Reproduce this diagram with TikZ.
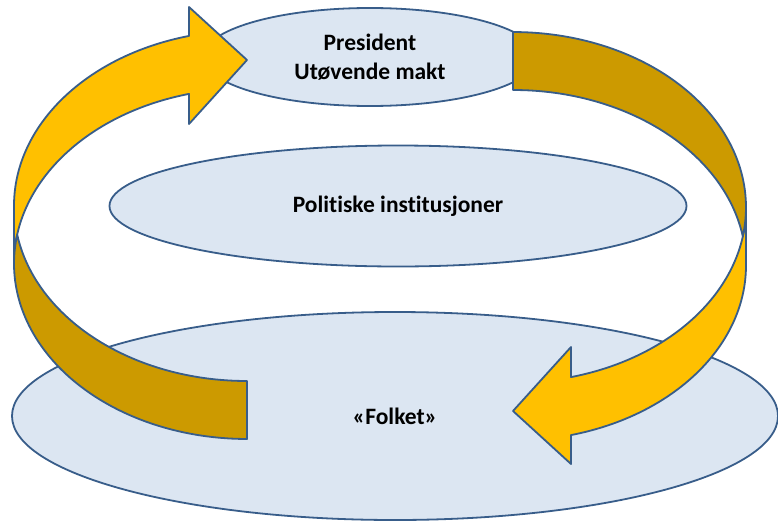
\documentclass[tikz,border=0pt]{standalone}
\usepackage{fontspec}
\setmainfont{Carlito}[Ligatures=NoCommon]
\usetikzlibrary{shapes.geometric}
\definecolor{gold}{HTML}{FFC000}
\definecolor{darkgold}{HTML}{CC9A00}
\definecolor{lightblue}{HTML}{DCE6F2}
\definecolor{edgeblue}{HTML}{385D8A}
\tikzset{
 ell/.style={ellipse,draw=edgeblue,fill=lightblue,line width=1.8pt,inner sep=0pt,align=center,font=\bfseries\fontsize{23.5}{28.6}\selectfont},
 band/.style={draw=edgeblue,line width=1.8pt,line join=round},
 ring/.style={x radius=\rx,y radius=\ry}
}
\newcommand{\turnarrow}{%
\draw[band,fill=gold](14,\ca)arc[ring,start angle=180,end angle=255.6]--(189,7)--(247,60)--(189,124)--(189,\ca+\th-0.9686*\ry)arc[ring,start angle=255.6,end angle=180]--cycle;
\draw[band,fill=darkgold](247,\ca+\ry)arc[ring,start angle=90,end angle=170.48]arc[ring,start angle=189.52,end angle=90]--cycle;}
\begin{document}
\begin{tikzpicture}[x=1pt,y=1pt,yscale=-1]
\pgfmathsetmacro{\rx}{233}
\pgfmathsetmacro{\ry}{175.3}
\pgfmathsetmacro{\ca}{205.7}
\pgfmathsetmacro{\th}{58}
\useasboundingbox(0,0)rectangle(778,522);
\node[ell,minimum width=766pt,minimum height=208pt](folket)at(395,416){«Folket»};
\node[ell,minimum width=577pt,minimum height=121pt](inst)at(398,206){Politiske institusjoner};
\node[ell,minimum width=334pt,minimum height=98pt](pres)at(370,57){President\\Utøvende makt};
\turnarrow
\begin{scope}[rotate around={180:(380,235.5)}]
\turnarrow
\end{scope}
\end{tikzpicture}
\end{document}
